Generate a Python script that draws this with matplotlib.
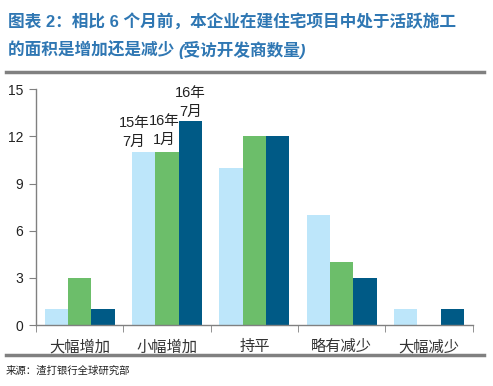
import matplotlib.pyplot as plt
from matplotlib.lines import Line2D
import numpy as np

plt.rcParams['font.family'] = ['Liberation Sans', 'Noto Sans CJK SC', 'DejaVu Sans']

categories = ["大幅增加", "小幅增加", "持平", "略有减少", "大幅减少"]
series_names = ["15年\n7月", "16年\n1月", "16年\n7月"]
jul15 = [1, 11, 10, 7, 1]
jan16 = [3, 11, 12, 4, 0]
jul16 = [1, 13, 12, 3, 1]
yticks = [0, 3, 6, 9, 12, 15]

colors = ["#BDE6FA", "#6CBE6A", "#005A86"]
title_color = "#2F77B3"

fig = plt.figure(figsize=(4.93, 3.86), dpi=100)
ax = fig.add_axes([0.073, 0.158, 0.886, 0.611])

x = np.arange(len(categories))
w = 0.267
label_offsets = [(-7, 2), (-2, 4), (0, 1)]
for i, vals in enumerate([jul15, jan16, jul16]):
    pos = x + (i - 1) * w
    ax.bar(pos, vals, width=w, color=colors[i], edgecolor="none")
    # series label sits above the second category group
    ax.annotate(series_names[i], (pos[1], vals[1]), xytext=label_offsets[i],
                textcoords="offset points", ha="center", va="bottom",
                fontsize=10.5, color="#222222", linespacing=1.45)

ax.set_xlim(-0.5, len(categories) - 0.5)
ax.set_ylim(0, 15)
ax.set_yticks(yticks)
ax.set_yticklabels([str(v) for v in yticks], fontsize=10, color="#222222")
ax.set_xticks(x)
ax.set_xticklabels(categories, fontsize=11, color="#333333")
ax.tick_params(axis="x", which="major", length=0, pad=11)
ax.set_xticks(np.arange(-0.5, len(categories)), minor=True)
ax.tick_params(axis="x", which="minor", length=5, color="#808080", direction="out")
ax.tick_params(axis="y", length=5, color="#808080", direction="out", pad=4)

for s in ["top", "right"]:
    ax.spines[s].set_visible(False)
for s in ["left", "bottom"]:
    ax.spines[s].set_color("#808080")
    ax.spines[s].set_linewidth(1)

# title
fig.text(8 / 493, 1 - 21 / 386, "图表 2：相比 6 个月前，本企业在建住宅项目中处于活跃施工",
         fontsize=12, fontweight="bold", color=title_color, va="center", ha="left")
t2 = fig.text(8 / 493, 1 - 50 / 386, "的面积是增加还是减少 ",
              fontsize=12, fontweight="bold", color=title_color, va="center", ha="left")
fig.canvas.draw()
bb = t2.get_window_extent()
fig.text(bb.x1 / fig.bbox.width, 1 - 50 / 386, "(受访开发商数量)",
         fontsize=12, fontweight="bold", fontstyle="italic", color=title_color,
         va="center", ha="left")

# gray rules
fig.add_artist(Line2D([6 / 493, 484 / 493], [1 - 72 / 386] * 2, color="#808080", lw=2.5))
fig.add_artist(Line2D([6 / 493, 484 / 493], [1 - 355 / 386] * 2, color="#808080", lw=2.5))

fig.text(6 / 493, 1 - 371 / 386, "来源：渣打银行全球研究部", fontsize=7.5,
         color="#222222", va="center", ha="left")

fig.savefig("out.png", dpi=100)
